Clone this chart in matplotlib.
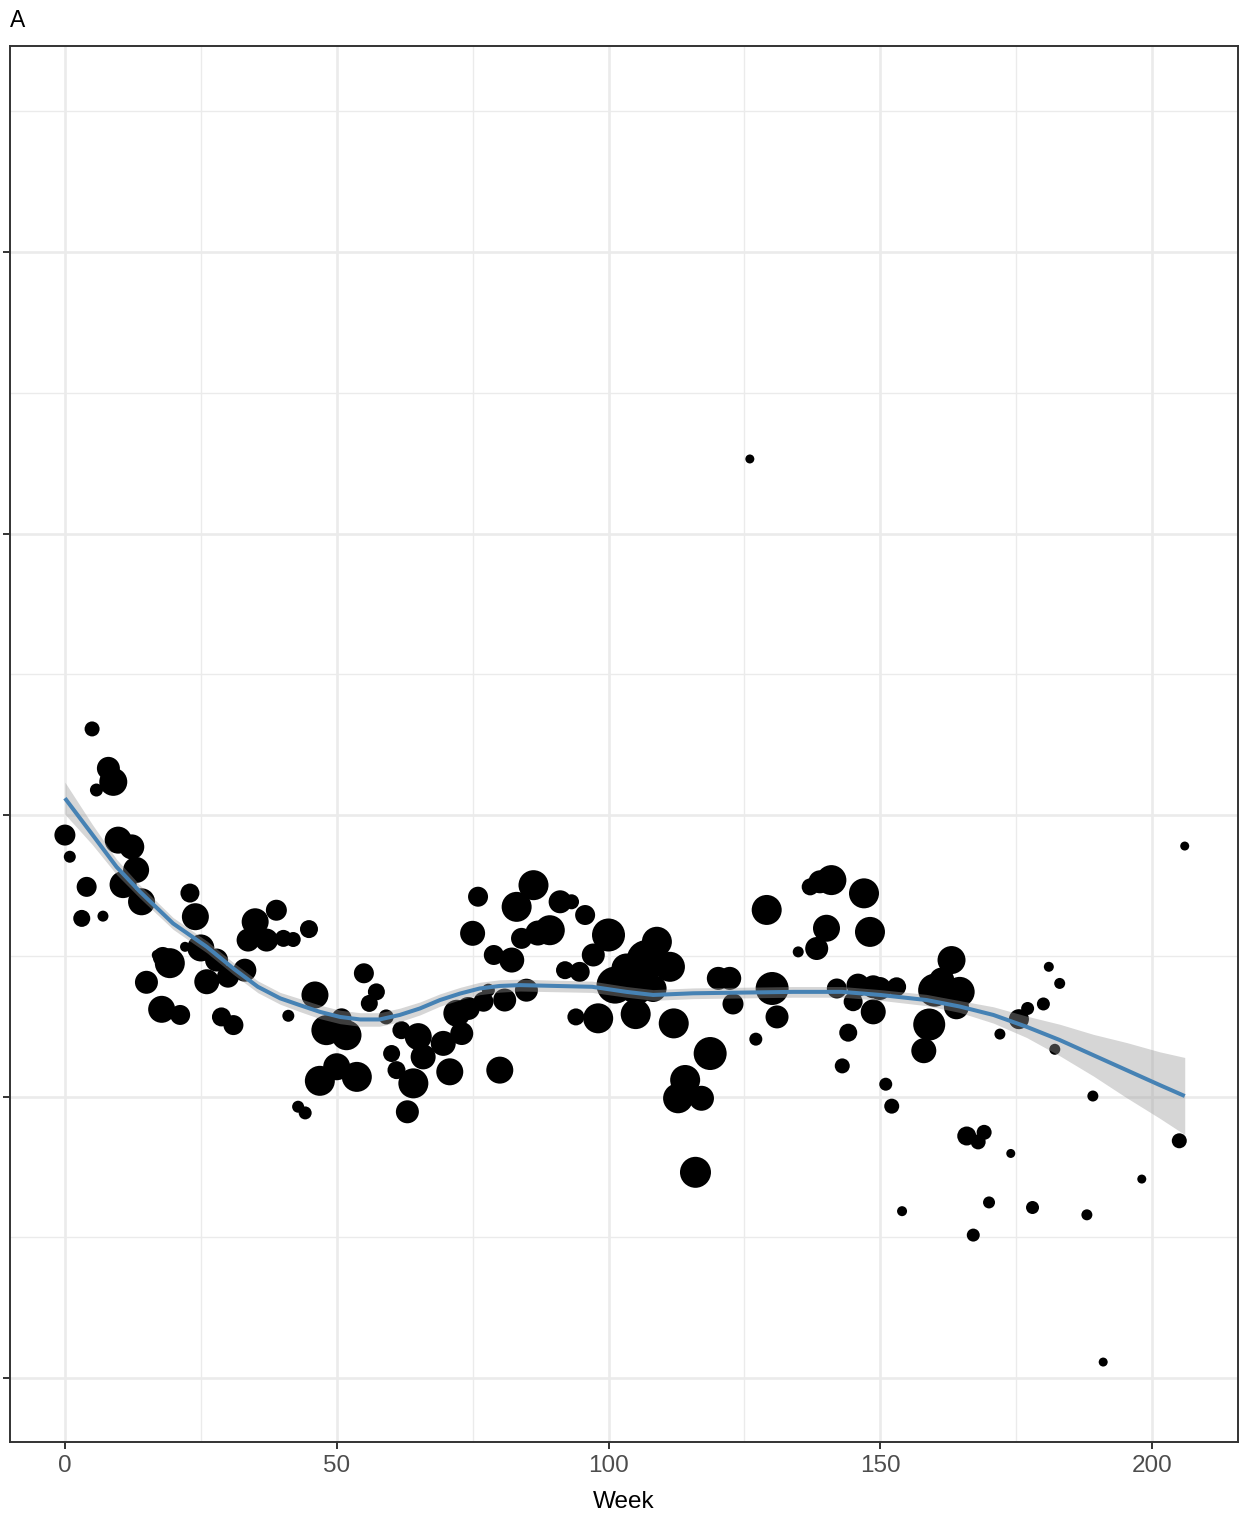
import numpy as np
import matplotlib
matplotlib.use("Agg")
import matplotlib.pyplot as plt

plt.rcParams["font.family"] = ["Liberation Sans", "DejaVu Sans"]

# =========================
# Data
# =========================
week = [5.0, 8.0, 8.9, 5.8, 0.0, 0.9, 4.0, 3.1, 7.0, 9.8,
        12.3, 13.1, 10.7, 14.1, 23.0, 24.0, 22.1, 25.0, 27.9, 26.1,
        30.0, 33.1, 19.3, 16.9, 18.0, 15.0, 17.8, 21.2, 28.8, 31.0,
        35.0, 38.9, 33.7, 37.1, 40.2, 42.0, 44.9, 46.0, 41.1,
        48.1, 51.8, 50.9, 46.9, 50.0, 53.7, 42.9, 44.2, 55.0, 57.3,
        56.0, 59.1, 61.9, 60.1, 61.0, 64.1, 63.0, 65.0, 65.9, 69.6,
        73.0, 72.1, 74.2, 77.0, 70.8, 80.0, 77.9, 80.9, 84.9, 76.0,
        75.0, 78.9, 82.2, 86.2, 83.1, 84.0, 89.2, 87.0, 91.1, 93.2,
        95.7, 92.0, 94.7, 94.0, 98.1, 97.2, 100.0, 108.9, 107.0, 111.3,
        101.2, 105.2, 108.2, 103.3, 105.0, 112.0, 118.7, 114.1, 112.8, 117.1,
        116.0, 120.2, 122.3, 122.9, 127.1, 129.1, 130.1, 131.0, 137.1, 138.9,
        141.0, 147.0, 140.1, 138.3, 134.9, 148.1, 142.0, 145.9, 145.0, 148.7,
        148.7, 144.1, 143.0, 149.9, 153.0, 163.1, 160.0, 164.6, 164.0, 161.3,
        159.0, 158.0, 151.0, 152.1, 181.0, 183.0, 180.0, 177.1, 175.5, 172.0,
        182.1, 206.0, 189.1, 205.0, 165.9, 168.0, 169.1, 174.0, 198.1, 154.0,
        170.0, 178.0, 188.0, 167.1, 191.0, 126.0]

value = [2.306, 2.166, 2.118, 2.089, 1.929, 1.852, 1.745, 1.633, 1.641, 1.911,
         1.887, 1.805, 1.753, 1.692, 1.723, 1.639, 1.532, 1.528, 1.485, 1.408,
         1.426, 1.449, 1.474, 1.503, 1.496, 1.406, 1.310, 1.290, 1.283, 1.254,
         1.621, 1.662, 1.556, 1.556, 1.562, 1.558, 1.595, 1.361, 1.287,
         1.236, 1.218, 1.278, 1.056, 1.106, 1.070, 0.964, 0.942, 1.438, 1.372,
         1.331, 1.283, 1.236, 1.153, 1.094, 1.047, 0.946, 1.213, 1.141, 1.189,
         1.224, 1.296, 1.313, 1.337, 1.088, 1.094, 1.378, 1.343, 1.378, 1.710,
         1.580, 1.503, 1.485, 1.751, 1.674, 1.562, 1.591, 1.581, 1.692, 1.692,
         1.645, 1.449, 1.443, 1.283, 1.278, 1.503, 1.574, 1.550, 1.485, 1.461,
         1.396, 1.390, 1.384, 1.455, 1.293, 1.260, 1.153, 1.059, 0.994, 0.994,
         0.731, 1.420, 1.420, 1.329, 1.204, 1.663, 1.384, 1.283, 1.745, 1.763,
         1.769, 1.722, 1.598, 1.526, 1.514, 1.585, 1.384, 1.396, 1.337, 1.390,
         1.301, 1.227, 1.109, 1.384, 1.390, 1.485, 1.378, 1.372, 1.319, 1.414,
         1.256, 1.163, 1.044, 0.966, 1.461, 1.402, 1.329, 1.313, 1.275, 1.222,
         1.168, 1.890, 1.002, 0.843, 0.860, 0.839, 0.873, 0.798, 0.707, 0.593,
         0.624, 0.606, 0.580, 0.508, 0.057, 3.265]

n = [15, 23, 28, 13, 21, 12, 20, 17, 11, 27,
     25, 26, 27, 27, 19, 27, 10, 27, 23, 25,
     22, 23, 30, 10, 20, 23, 27, 20, 19, 20,
     27, 21, 23, 23, 17, 15, 18, 27, 12,
     30, 30, 20, 30, 27, 30, 12, 13, 20, 17,
     17, 15, 18, 17, 18, 30, 23, 27, 25, 25,
     23, 27, 23, 20, 27, 27, 13, 23, 23, 20,
     25, 20, 25, 30, 30, 21, 30, 25, 23, 15,
     20, 18, 20, 17, 30, 23, 33, 30, 40, 30,
     37, 35, 27, 30, 30, 30, 33, 30, 30, 25,
     31, 23, 23, 21, 13, 30, 33, 23, 17, 23,
     30, 30, 27, 23, 11, 30, 20, 23, 19, 23,
     25, 18, 15, 23, 19, 28, 33, 30, 25, 25,
     32, 25, 13, 15, 10, 11, 13, 13, 20, 11,
     11, 9, 11, 15, 19, 15, 15, 9, 9, 10,
     12, 13, 11, 13, 9, 9]

# smooth fit and its confidence half-width
fit_week = [0, 5, 9.5, 13.8, 19.9, 26.1, 31.0, 35.5, 39.6, 43.2, 46.9, 50.6,
            54.3, 57.9, 61.6, 65.3, 69.0, 72.7, 76.3, 80.0, 83.7, 97.0,
            103.3, 108.2, 115.6, 134.0, 143.0, 150.0, 158.5, 164.6, 170.8,
            176.9, 183.0, 189.2, 195.3, 201.4, 206.0]
fit_value = [2.060, 1.932, 1.816, 1.728, 1.615, 1.532, 1.455, 1.390, 1.349,
             1.325, 1.301, 1.283, 1.274, 1.274, 1.290, 1.313, 1.343, 1.366,
             1.384, 1.393, 1.396, 1.390, 1.372, 1.361, 1.367, 1.372, 1.372,
             1.361, 1.343, 1.320, 1.290, 1.248, 1.201, 1.147, 1.094, 1.041,
             1.002]
fit_se = [0.057, 0.036, 0.027, 0.023, 0.021, 0.021, 0.021, 0.021, 0.021,
          0.023, 0.024, 0.024, 0.024, 0.024, 0.024, 0.023, 0.022, 0.022,
          0.022, 0.022, 0.021, 0.020, 0.019, 0.019, 0.019, 0.019, 0.019,
          0.019, 0.020, 0.021, 0.029, 0.038, 0.056, 0.074, 0.098, 0.118,
          0.137]

x_ticks = [0, 50, 100, 150, 200]
y_ticks = [0, 1, 2, 3, 4]

# =========================
# Plot
# =========================
W, H = 1239, 1516
fig = plt.figure(figsize=(W / 100, H / 100), dpi=100)
ax = fig.add_axes([10 / W, 74 / H, 1228 / W, 1396 / H])

grid_col = "#EBEBEB"
for xm in np.arange(25, 200, 50):
    ax.axvline(xm, color=grid_col, lw=1.0, zorder=0)
for ym in np.arange(0.5, 5, 1.0):
    ax.axhline(ym, color=grid_col, lw=1.0, zorder=0)
for xm in x_ticks:
    ax.axvline(xm, color=grid_col, lw=1.9, zorder=0)
for ym in y_ticks:
    ax.axhline(ym, color=grid_col, lw=1.9, zorder=0)

sizes = (np.array(n) * 0.72) ** 2
ax.scatter(week, value, s=sizes, color="black", linewidths=0, zorder=2)

fw = np.array(fit_week)
fv = np.array(fit_value)
fs = np.array(fit_se)
ax.fill_between(fw, fv - fs, fv + fs, color="#999999", alpha=0.4, lw=0, zorder=3)
ax.plot(fw, fv, color="#4682B4", lw=2.9, zorder=4,
        solid_capstyle="butt", solid_joinstyle="round")

ax.set_xlim(-10.1, 215.8)
ax.set_ylim(-0.227, 4.732)
ax.set_xticks(x_ticks)
ax.set_yticks(y_ticks)
ax.set_yticklabels([])
ax.tick_params(axis="both", length=5, width=1.4, color="#333333",
               labelsize=17.5, labelcolor="#4D4D4D", pad=4.5)
for sp in ax.spines.values():
    sp.set_color("#333333")
    sp.set_linewidth(1.4)

ax.set_xlabel("Week", fontsize=17.5, color="black", labelpad=10)
fig.text(10 / W, 1 - 27 / H, "A", fontsize=16.5, color="black",
         ha="left", va="baseline")

fig.savefig("out.png", dpi=100)
